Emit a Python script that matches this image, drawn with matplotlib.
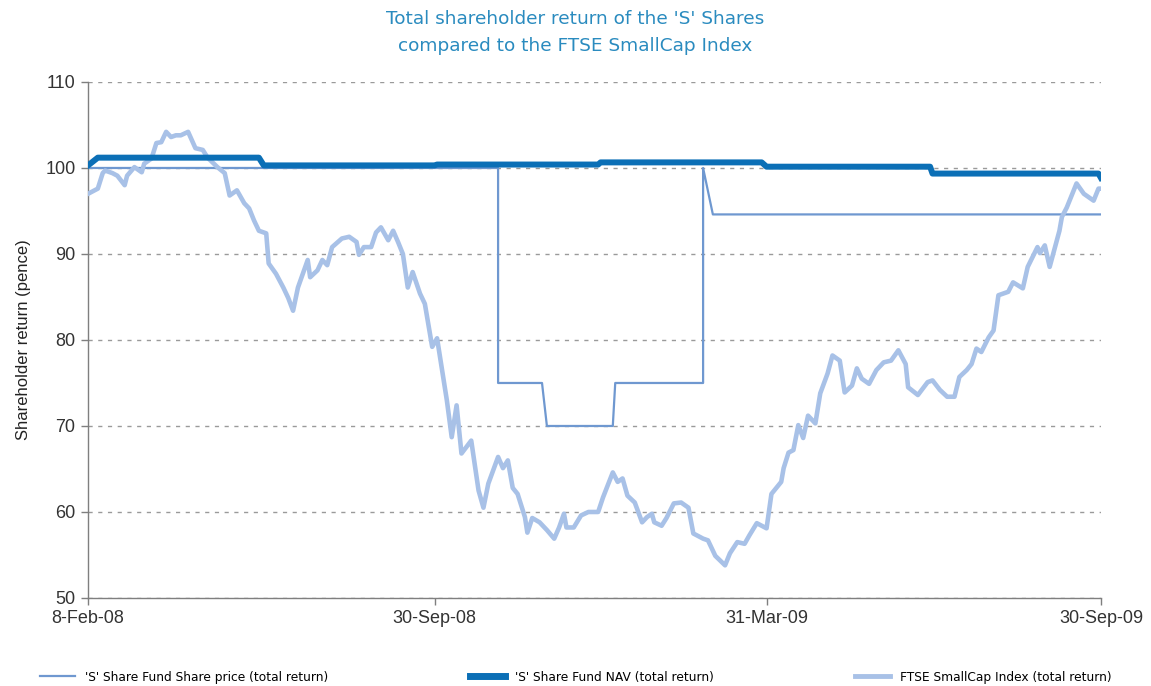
import matplotlib
matplotlib.use("Agg")
import matplotlib.pyplot as plt
from matplotlib.lines import Line2D

# ---------------- data ----------------
# x = observation (trading-day) index from 8-Feb-08 (0) to 30-Sep-09 (415)
tick_pos = [0, 142, 278, 415]
tick_labels = ["8-Feb-08", "30-Sep-08", "31-Mar-09", "30-Sep-09"]
y_ticks = [50, 60, 70, 80, 90, 100, 110]

ftse_t = [0, 4, 6, 7, 10, 12, 15, 16, 19, 22, 23, 26, 28, 30, 32, 34, 36, 38, 41, 44,
          47, 49, 53, 56, 58, 61, 64, 66, 68, 70, 73, 74, 77, 80, 82, 84, 86, 90, 91, 94,
          96, 98, 100, 104, 107, 110, 111, 113, 116, 118, 120, 123, 125, 127, 129, 131, 133, 136, 138, 141,
          143, 147, 149, 151, 153, 157, 160, 162, 164, 168, 170, 172, 174, 176, 179, 180, 182, 185, 188, 191,
          193, 195, 196, 199, 202, 205, 209, 211, 215, 217, 219, 221, 224, 227, 229, 231, 232, 235, 237, 240,
          243, 246, 248, 252, 254, 257, 261, 263, 266, 269, 271, 274, 278, 280, 284, 285, 287, 289, 291, 293,
          295, 298, 300, 303, 305, 308, 310, 313, 315, 317, 320, 323, 326, 329, 332, 335, 336, 340, 344, 346,
          349, 352, 355, 357, 360, 362, 364, 366, 369, 371, 373, 377, 379, 383, 385, 389, 390, 392, 394, 398,
          399, 401, 405, 408, 412, 414, 415]
ftse_v = [97.0, 97.6, 99.4, 99.7, 99.4, 99.1, 98.0, 99.1, 100.1, 99.5, 100.5, 101.1, 102.9, 103.0, 104.2, 103.6, 103.8, 103.8, 104.2, 102.3,
          102.1, 101.2, 100.1, 99.4, 96.8, 97.4, 95.9, 95.3, 93.9, 92.7, 92.4, 88.9, 87.7, 86.1, 84.9, 83.4, 86.1, 89.3, 87.3, 88.1,
          89.3, 88.7, 90.8, 91.8, 92.0, 91.4, 89.9, 90.8, 90.8, 92.5, 93.1, 91.6, 92.7, 91.4, 90.0, 86.1, 87.9, 85.4, 84.2, 79.2,
          80.2, 73.0, 68.7, 72.4, 66.8, 68.3, 62.5, 60.5, 63.3, 66.4, 65.1, 66.0, 62.8, 62.1, 59.4, 57.6, 59.3, 58.8, 57.9, 56.9,
          58.2, 59.8, 58.2, 58.2, 59.6, 60.0, 60.0, 61.7, 64.6, 63.5, 63.9, 61.9, 61.1, 58.8, 59.4, 59.8, 58.8, 58.4, 59.3, 61.0,
          61.1, 60.5, 57.5, 56.9, 56.7, 54.9, 53.8, 55.2, 56.5, 56.3, 57.3, 58.7, 58.1, 62.1, 63.5, 65.1, 66.9, 67.2, 70.1, 68.6,
          71.2, 70.3, 73.8, 76.1, 78.2, 77.6, 73.9, 74.7, 76.7, 75.5, 74.9, 76.5, 77.4, 77.6, 78.8, 77.2, 74.5, 73.6, 75.1, 75.3,
          74.2, 73.4, 73.4, 75.7, 76.5, 77.2, 79.0, 78.6, 80.3, 81.1, 85.2, 85.6, 86.7, 86.0, 88.5, 90.8, 90.1, 91.0, 88.5, 92.7,
          94.3, 95.4, 98.2, 97.0, 96.2, 97.6, 97.6]

price_t = [0, 168, 168, 186, 188, 215, 216, 252, 252, 256, 415]
price_v = [100.0, 100.0, 75.0, 75.0, 70.0, 70.0, 75.0, 75.0, 100.0, 94.6, 94.6]

nav_t = [0, 4, 70, 72, 142, 143, 209, 210, 276, 278, 345, 346, 414, 415]
nav_v = [100.3, 101.2, 101.2, 100.3, 100.3, 100.4, 100.4, 100.65, 100.65, 100.15, 100.15, 99.35, 99.35, 98.85]

labels = ["'S' Share Fund Share price (total return)",
          "'S' Share Fund NAV (total return)",
          "FTSE SmallCap Index (total return)"]

# ---------------- style ----------------
plt.rcParams['font.family'] = ['Liberation Sans', 'DejaVu Sans']
narrow = ['DejaVu Sans']

c_price = "#6f98d0"
c_nav = "#0b6fb6"
c_ftse = "#a8c1e7"
c_title = "#2a8bbf"

fig = plt.figure(figsize=(11.51, 6.86), dpi=100)
ax = fig.add_axes([0.0765, 0.1283, 0.88, 0.7522])

ax.plot(price_t, price_v, color=c_price, lw=1.6, zorder=3)
ax.plot(ftse_t, ftse_v, color=c_ftse, lw=3.3, zorder=4)
ax.plot(nav_t, nav_v, color=c_nav, lw=4.3, zorder=5)

ax.set_xlim(tick_pos[0], tick_pos[-1])
ax.set_ylim(y_ticks[0], y_ticks[-1])
ax.set_xticks(tick_pos)
ax.set_xticklabels(tick_labels)
ax.set_yticks(y_ticks)

for s in ["top", "right"]:
    ax.spines[s].set_visible(False)
for s in ["left", "bottom"]:
    ax.spines[s].set_color("#7f7f7f")
    ax.spines[s].set_linewidth(1.0)

ax.tick_params(axis="both", direction="out", length=5, width=1, color="#7f7f7f",
               labelsize=13, labelcolor="#333333", pad=4)
ax.yaxis.grid(True, linestyle=(0, (3, 4)), color="#9a9a9a", lw=1.0)
ax.set_axisbelow(True)

ax.set_ylabel("Shareholder return (pence)", fontsize=12, color="#222222", labelpad=10)

fig.text(0.5, 0.972, "Total shareholder return of the 'S' Shares",
         ha="center", va="center", fontsize=13.3, color=c_title, family=narrow)
fig.text(0.5, 0.933, "compared to the FTSE SmallCap Index",
         ha="center", va="center", fontsize=13.3, color=c_title, family=narrow)

handles = [Line2D([], [], color=c_price, lw=1.6),
           Line2D([], [], color=c_nav, lw=5.0),
           Line2D([], [], color=c_ftse, lw=3.5)]
anchors = [0.0348, 0.4083, 0.7428]
for h, lab, xa in zip(handles, labels, anchors):
    fig.legend([h], [lab], loc="center left", bbox_to_anchor=(xa, 0.013), frameon=False,
               handlelength=2.9, handletextpad=0.8, borderaxespad=0, borderpad=0,
               prop={"family": narrow, "size": 8.8})

fig.savefig("out.png", dpi=100, facecolor="white")
